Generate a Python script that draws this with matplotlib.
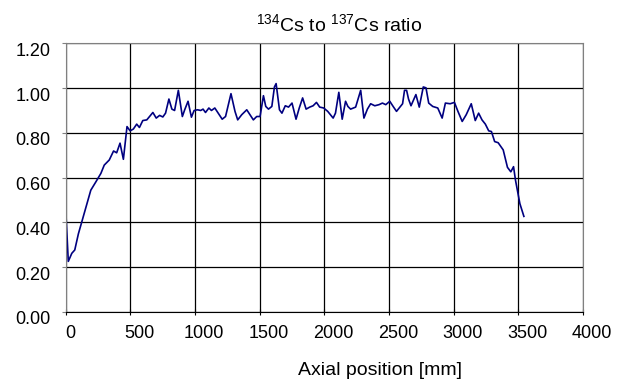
import matplotlib
matplotlib.use("Agg")
import matplotlib.pyplot as plt
from matplotlib.transforms import ScaledTranslation

plt.rcParams.update({
    "font.family": ["Liberation Sans", "DejaVu Sans"],
    "mathtext.fontset": "custom",
    "mathtext.rm": "Liberation Sans",
    "font.size": 13,
})

# Axial position [mm] and 134Cs/137Cs ratio
position = [0, 20, 47, 70, 98, 142, 194, 233, 272, 298, 337, 370, 394, 420, 446,
            474, 498, 523, 549, 570, 596, 627, 674, 700, 726, 751, 772, 798,
            821, 842, 871, 902, 920, 946, 972, 993, 1019, 1044, 1062, 1081,
            1107, 1127, 1153, 1179, 1210, 1236, 1278, 1309, 1330, 1361, 1400,
            1425, 1451, 1477, 1503, 1529, 1547, 1568, 1594, 1614, 1627, 1653,
            1672, 1698, 1723, 1750, 1781, 1806, 1832, 1859, 1887, 1913, 1939,
            1964, 1995, 2026, 2068, 2086, 2112, 2138, 2164, 2182, 2203, 2242,
            2281, 2306, 2333, 2358, 2390, 2423, 2449, 2475, 2506, 2532, 2558,
            2584, 2605, 2620, 2636, 2651, 2670, 2688, 2708, 2734, 2765, 2786,
            2807, 2838, 2877, 2911, 2936, 2973, 3006, 3033, 3066, 3097, 3136,
            3167, 3193, 3219, 3245, 3271, 3292, 3317, 3344, 3383, 3416, 3442,
            3463, 3478, 3512, 3543]
ratio = [0.46, 0.226, 0.262, 0.277, 0.349, 0.439, 0.544, 0.581, 0.619, 0.656,
         0.679, 0.719, 0.711, 0.754, 0.682, 0.828, 0.809, 0.817, 0.839, 0.824,
         0.855, 0.858, 0.891, 0.866, 0.878, 0.871, 0.888, 0.951,
         0.906, 0.900, 0.990, 0.873, 0.903, 0.941, 0.870, 0.900, 0.903, 0.900,
         0.906, 0.891, 0.911, 0.900, 0.911, 0.888, 0.861, 0.873, 0.975, 0.896,
         0.858, 0.881, 0.903, 0.881, 0.858, 0.873, 0.873, 0.966, 0.918, 0.906,
         0.918, 1.005, 1.020, 0.903, 0.888, 0.921, 0.915, 0.933, 0.861, 0.911,
         0.956, 0.906, 0.915, 0.921, 0.936, 0.915, 0.911, 0.896, 0.866, 0.888,
         0.981, 0.861, 0.941, 0.918, 0.906, 0.915, 0.990, 0.866, 0.906, 0.930,
         0.921, 0.926, 0.933, 0.926, 0.941, 0.918, 0.896, 0.915, 0.930, 0.990,
         0.990, 0.951, 0.921, 0.945, 0.971, 0.915, 1.005, 1.001, 0.933, 0.918,
         0.911, 0.866, 0.933, 0.930, 0.936, 0.896, 0.851, 0.881, 0.930, 0.855,
         0.888, 0.858, 0.839, 0.809, 0.806, 0.761, 0.756, 0.724, 0.646, 0.626,
         0.649, 0.589, 0.484, 0.427]

x_ticks = [0, 500, 1000, 1500, 2000, 2500, 3000, 3500, 4000]
y_ticks = [0.0, 0.2, 0.4, 0.6, 0.8, 1.0, 1.2]

fig = plt.figure(figsize=(6.27, 3.90), dpi=100)
ax = fig.add_axes([0.1048, 0.2, 0.825, 0.689])

ax.plot(position, ratio, color="#000080", lw=1.2)

ax.set_xlim(0, 4000)
ax.set_ylim(0, 1.2)
ax.set_xticks(x_ticks)
ax.set_yticks(y_ticks)
ax.set_yticklabels([f"{v:.2f}" for v in y_ticks])
ax.grid(True, color="black", lw=0.9)
ax.set_axisbelow(True)
for side in ["top", "right", "left"]:
    ax.spines[side].set_color("#808080")
ax.spines["bottom"].set_color("black")
ax.tick_params(axis="x", direction="inout", length=5, pad=7, labelsize=13)
ax.tick_params(axis="y", direction="out", length=3, pad=8, labelsize=13,
               color="#808080")

# Excel-style label placement: x labels sit right of ticks, y labels below
for i, lab in enumerate(ax.get_xticklabels()):
    dx = 0.05 if i == 0 else 0.09
    lab.set_transform(lab.get_transform() + ScaledTranslation(dx, 0, fig.dpi_scale_trans))
for lab in ax.get_yticklabels():
    lab.set_transform(lab.get_transform() + ScaledTranslation(0, -0.06, fig.dpi_scale_trans))

fig.text(256 / 627, 1 - 32 / 390, r"$^{134}$Cs to $^{137}$Cs ratio", ha="left",
         va="baseline", fontsize=14)
fig.text(462 / 627, 1 - 375 / 390, "Axial position [mm]", ha="right",
         va="baseline", fontsize=14)

fig.savefig("out.png", dpi=100)
